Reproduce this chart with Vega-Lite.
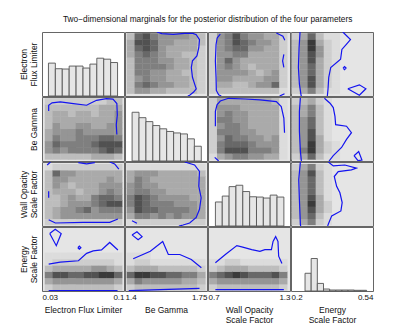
{
"$schema": "https://vega.github.io/schema/vega-lite/v6.json",
"background": "white",
"padding": {"left": 18, "top": 15, "right": 0, "bottom": 0},
"title": {"text": "Two−dimensional marginals for the posterior distribution of the four parameters", "anchor": "start", "frame": "group", "dx": 21, "offset": 8, "fontSize": 8.3, "fontWeight": "normal", "color": "#111"},
"config": {
  "font": "Liberation Sans",
  "view": {"stroke": "#666", "strokeWidth": 1},
  "axis": {"ticks": false, "domain": false, "grid": false, "labelFontSize": 8, "titleFontSize": 8.5, "titleFontWeight": "normal", "labelColor": "#111", "titleColor": "#111", "labelPadding": 2.5, "titlePadding": 4, "titleLineHeight": 10, "labelOverlap": false}
},
"columns": 4,
"spacing": 1,
"bounds": "flush",
"datasets": {
"cen": [
{"i":0,"E":0.0358,"B":1.4248,"W":0.7385,"S":0.2197},
{"i":1,"E":0.0424,"B":1.4583,"W":0.7955,"S":0.253},
{"i":2,"E":0.049,"B":1.4918,"W":0.8525,"S":0.2863},
{"i":3,"E":0.0556,"B":1.5253,"W":0.9095,"S":0.3196},
{"i":4,"E":0.0622,"B":1.5588,"W":0.9665,"S":0.3529},
{"i":5,"E":0.0688,"B":1.5923,"W":1.0235,"S":0.3862},
{"i":6,"E":0.0754,"B":1.6258,"W":1.0805,"S":0.4195},
{"i":7,"E":0.082,"B":1.6593,"W":1.1375,"S":0.4528},
{"i":8,"E":0.0886,"B":1.6928,"W":1.1945,"S":0.4861},
{"i":9,"E":0.0952,"B":1.7263,"W":1.2515,"S":0.5194}
],
"H": [
{"p":"E","x":0.0355,"x2":0.0414,"n":334},{"p":"E","x":0.0414,"x2":0.0473,"n":277},{"p":"E","x":0.0473,"x2":0.0532,"n":274},{"p":"E","x":0.0532,"x2":0.0591,"n":304},{"p":"E","x":0.0591,"x2":0.065,"n":304},{"p":"E","x":0.065,"x2":0.0709,"n":284},{"p":"E","x":0.0709,"x2":0.0768,"n":324},{"p":"E","x":0.0768,"x2":0.0827,"n":384},{"p":"E","x":0.0827,"x2":0.0886,"n":374},{"p":"E","x":0.0886,"x2":0.0945,"n":340},
{"p":"B","x":1.4303,"x2":1.4598,"n":495},{"p":"B","x":1.4598,"x2":1.4894,"n":440},{"p":"B","x":1.4894,"x2":1.5189,"n":400},{"p":"B","x":1.5189,"x2":1.5484,"n":360},{"p":"B","x":1.5484,"x2":1.578,"n":327},{"p":"B","x":1.578,"x2":1.6075,"n":300},{"p":"B","x":1.6075,"x2":1.637,"n":285},{"p":"B","x":1.637,"x2":1.6665,"n":275},{"p":"B","x":1.6665,"x2":1.6961,"n":225},{"p":"B","x":1.6961,"x2":1.7256,"n":150},
{"p":"W","x":0.7542,"x2":0.8043,"n":244},{"p":"W","x":0.8043,"x2":0.8544,"n":304},{"p":"W","x":0.8544,"x2":0.9045,"n":400},{"p":"W","x":0.9045,"x2":0.9546,"n":414},{"p":"W","x":0.9546,"x2":1.0047,"n":350},{"p":"W","x":1.0047,"x2":1.0548,"n":297},{"p":"W","x":1.0548,"x2":1.1049,"n":294},{"p":"W","x":1.1049,"x2":1.155,"n":284},{"p":"W","x":1.155,"x2":1.2051,"n":314},{"p":"W","x":1.2051,"x2":1.2552,"n":294},
{"p":"S","x":0.2582,"x2":0.2837,"n":180},{"p":"S","x":0.2837,"x2":0.3092,"n":330},{"p":"S","x":0.3092,"x2":0.3348,"n":77},{"p":"S","x":0.3348,"x2":0.3603,"n":20},{"p":"S","x":0.3603,"x2":0.3858,"n":10},{"p":"S","x":0.3858,"x2":0.4113,"n":10},{"p":"S","x":0.4113,"x2":0.4368,"n":10},{"p":"S","x":0.4368,"x2":0.4624,"n":10},{"p":"S","x":0.4624,"x2":0.4879,"n":7},{"p":"S","x":0.4879,"x2":0.5134,"n":7}
],
"EB": [
{"i":0,"j":0,"v":3},{"i":0,"j":1,"v":5},{"i":0,"j":2,"v":5},{"i":0,"j":3,"v":4},{"i":0,"j":4,"v":4},{"i":0,"j":5,"v":3},{"i":0,"j":6,"v":3},{"i":0,"j":7,"v":3},{"i":0,"j":8,"v":3},{"i":0,"j":9,"v":2},
{"i":1,"j":0,"v":3},{"i":1,"j":1,"v":6},{"i":1,"j":2,"v":7},{"i":1,"j":3,"v":6},{"i":1,"j":4,"v":5},{"i":1,"j":5,"v":5},{"i":1,"j":6,"v":4},{"i":1,"j":7,"v":4},{"i":1,"j":8,"v":3},{"i":1,"j":9,"v":2},
{"i":2,"j":0,"v":3},{"i":2,"j":1,"v":5},{"i":2,"j":2,"v":6},{"i":2,"j":3,"v":5},{"i":2,"j":4,"v":5},{"i":2,"j":5,"v":4},{"i":2,"j":6,"v":4},{"i":2,"j":7,"v":4},{"i":2,"j":8,"v":3},{"i":2,"j":9,"v":2},
{"i":3,"j":0,"v":3},{"i":3,"j":1,"v":6},{"i":3,"j":2,"v":6},{"i":3,"j":3,"v":5},{"i":3,"j":4,"v":5},{"i":3,"j":5,"v":4},{"i":3,"j":6,"v":4},{"i":3,"j":7,"v":3},{"i":3,"j":8,"v":3},{"i":3,"j":9,"v":2},
{"i":4,"j":0,"v":3},{"i":4,"j":1,"v":6},{"i":4,"j":2,"v":6},{"i":4,"j":3,"v":6},{"i":4,"j":4,"v":6},{"i":4,"j":5,"v":5},{"i":4,"j":6,"v":4},{"i":4,"j":7,"v":4},{"i":4,"j":8,"v":3},{"i":4,"j":9,"v":2},
{"i":5,"j":0,"v":3},{"i":5,"j":1,"v":6},{"i":5,"j":2,"v":6},{"i":5,"j":3,"v":6},{"i":5,"j":4,"v":5},{"i":5,"j":5,"v":5},{"i":5,"j":6,"v":4},{"i":5,"j":7,"v":4},{"i":5,"j":8,"v":3},{"i":5,"j":9,"v":2},
{"i":6,"j":0,"v":4},{"i":6,"j":1,"v":6},{"i":6,"j":2,"v":7},{"i":6,"j":3,"v":6},{"i":6,"j":4,"v":5},{"i":6,"j":5,"v":4},{"i":6,"j":6,"v":4},{"i":6,"j":7,"v":3},{"i":6,"j":8,"v":3},{"i":6,"j":9,"v":2},
{"i":7,"j":0,"v":4},{"i":7,"j":1,"v":7},{"i":7,"j":2,"v":8},{"i":7,"j":3,"v":7},{"i":7,"j":4,"v":5},{"i":7,"j":5,"v":4},{"i":7,"j":6,"v":4},{"i":7,"j":7,"v":4},{"i":7,"j":8,"v":4},{"i":7,"j":9,"v":2},
{"i":8,"j":0,"v":4},{"i":8,"j":1,"v":8},{"i":8,"j":2,"v":8},{"i":8,"j":3,"v":7},{"i":8,"j":4,"v":5},{"i":8,"j":5,"v":5},{"i":8,"j":6,"v":4},{"i":8,"j":7,"v":4},{"i":8,"j":8,"v":4},{"i":8,"j":9,"v":3},
{"i":9,"j":0,"v":3},{"i":9,"j":1,"v":7},{"i":9,"j":2,"v":8},{"i":9,"j":3,"v":6},{"i":9,"j":4,"v":5},{"i":9,"j":5,"v":5},{"i":9,"j":6,"v":5},{"i":9,"j":7,"v":5},{"i":9,"j":8,"v":4},{"i":9,"j":9,"v":3}
],
"EW": [
{"i":0,"j":0,"v":2},{"i":0,"j":1,"v":3},{"i":0,"j":2,"v":3},{"i":0,"j":3,"v":3},{"i":0,"j":4,"v":3},{"i":0,"j":5,"v":3},{"i":0,"j":6,"v":3},{"i":0,"j":7,"v":3},{"i":0,"j":8,"v":3},{"i":0,"j":9,"v":1},
{"i":1,"j":0,"v":2},{"i":1,"j":1,"v":4},{"i":1,"j":2,"v":4},{"i":1,"j":3,"v":3},{"i":1,"j":4,"v":3},{"i":1,"j":5,"v":4},{"i":1,"j":6,"v":5},{"i":1,"j":7,"v":5},{"i":1,"j":8,"v":7},{"i":1,"j":9,"v":2},
{"i":2,"j":0,"v":2},{"i":2,"j":1,"v":5},{"i":2,"j":2,"v":5},{"i":2,"j":3,"v":4},{"i":2,"j":4,"v":4},{"i":2,"j":5,"v":4},{"i":2,"j":6,"v":4},{"i":2,"j":7,"v":5},{"i":2,"j":8,"v":5},{"i":2,"j":9,"v":2},
{"i":3,"j":0,"v":2},{"i":3,"j":1,"v":5},{"i":3,"j":2,"v":5},{"i":3,"j":3,"v":5},{"i":3,"j":4,"v":5},{"i":3,"j":5,"v":4},{"i":3,"j":6,"v":3},{"i":3,"j":7,"v":4},{"i":3,"j":8,"v":5},{"i":3,"j":9,"v":2},
{"i":4,"j":0,"v":2},{"i":4,"j":1,"v":5},{"i":4,"j":2,"v":6},{"i":4,"j":3,"v":5},{"i":4,"j":4,"v":4},{"i":4,"j":5,"v":3},{"i":4,"j":6,"v":4},{"i":4,"j":7,"v":4},{"i":4,"j":8,"v":4},{"i":4,"j":9,"v":2},
{"i":5,"j":0,"v":2},{"i":5,"j":1,"v":5},{"i":5,"j":2,"v":7},{"i":5,"j":3,"v":5},{"i":5,"j":4,"v":4},{"i":5,"j":5,"v":4},{"i":5,"j":6,"v":4},{"i":5,"j":7,"v":4},{"i":5,"j":8,"v":4},{"i":5,"j":9,"v":2},
{"i":6,"j":0,"v":2},{"i":6,"j":1,"v":5},{"i":6,"j":2,"v":5},{"i":6,"j":3,"v":6},{"i":6,"j":4,"v":6},{"i":6,"j":5,"v":4},{"i":6,"j":6,"v":4},{"i":6,"j":7,"v":4},{"i":6,"j":8,"v":4},{"i":6,"j":9,"v":2},
{"i":7,"j":0,"v":2},{"i":7,"j":1,"v":5},{"i":7,"j":2,"v":6},{"i":7,"j":3,"v":7},{"i":7,"j":4,"v":7},{"i":7,"j":5,"v":5},{"i":7,"j":6,"v":5},{"i":7,"j":7,"v":4},{"i":7,"j":8,"v":4},{"i":7,"j":9,"v":2},
{"i":8,"j":0,"v":2},{"i":8,"j":1,"v":5},{"i":8,"j":2,"v":6},{"i":8,"j":3,"v":8},{"i":8,"j":4,"v":7},{"i":8,"j":5,"v":6},{"i":8,"j":6,"v":5},{"i":8,"j":7,"v":5},{"i":8,"j":8,"v":4},{"i":8,"j":9,"v":2},
{"i":9,"j":0,"v":2},{"i":9,"j":1,"v":5},{"i":9,"j":2,"v":6},{"i":9,"j":3,"v":8},{"i":9,"j":4,"v":6},{"i":9,"j":5,"v":5},{"i":9,"j":6,"v":5},{"i":9,"j":7,"v":4},{"i":9,"j":8,"v":4},{"i":9,"j":9,"v":2}
],
"ES": [
{"i":0,"j":0,"v":2},{"i":0,"j":1,"v":4},{"i":0,"j":2,"v":6},{"i":0,"j":3,"v":3},{"i":0,"j":4,"v":1},{"i":0,"j":5,"v":1},
{"i":1,"j":0,"v":3},{"i":1,"j":1,"v":5},{"i":1,"j":2,"v":8},{"i":1,"j":3,"v":4},{"i":1,"j":4,"v":2},{"i":1,"j":5,"v":1},
{"i":2,"j":0,"v":3},{"i":2,"j":1,"v":5},{"i":2,"j":2,"v":8},{"i":2,"j":3,"v":4},{"i":2,"j":4,"v":2},{"i":2,"j":5,"v":1},
{"i":3,"j":0,"v":3},{"i":3,"j":1,"v":5},{"i":3,"j":2,"v":7},{"i":3,"j":3,"v":4},{"i":3,"j":4,"v":2},{"i":3,"j":5,"v":1},
{"i":4,"j":0,"v":3},{"i":4,"j":1,"v":5},{"i":4,"j":2,"v":7},{"i":4,"j":3,"v":4},{"i":4,"j":4,"v":2},{"i":4,"j":5,"v":1},
{"i":5,"j":0,"v":3},{"i":5,"j":1,"v":5},{"i":5,"j":2,"v":8},{"i":5,"j":3,"v":4},{"i":5,"j":4,"v":2},{"i":5,"j":5,"v":1},
{"i":6,"j":0,"v":3},{"i":6,"j":1,"v":5},{"i":6,"j":2,"v":8},{"i":6,"j":3,"v":5},{"i":6,"j":4,"v":2},{"i":6,"j":5,"v":1},
{"i":7,"j":0,"v":3},{"i":7,"j":1,"v":5},{"i":7,"j":2,"v":9},{"i":7,"j":3,"v":5},{"i":7,"j":4,"v":2},{"i":7,"j":5,"v":1},
{"i":8,"j":0,"v":3},{"i":8,"j":1,"v":5},{"i":8,"j":2,"v":9},{"i":8,"j":3,"v":4},{"i":8,"j":4,"v":2},{"i":8,"j":5,"v":1},
{"i":9,"j":0,"v":2},{"i":9,"j":1,"v":4},{"i":9,"j":2,"v":7},{"i":9,"j":3,"v":3},{"i":9,"j":4,"v":1},{"i":9,"j":5,"v":1}
],
"BW": [
{"i":0,"j":0,"v":1},{"i":0,"j":1,"v":4},{"i":0,"j":2,"v":5},{"i":0,"j":3,"v":6},{"i":0,"j":4,"v":6},{"i":0,"j":5,"v":5},{"i":0,"j":6,"v":5},{"i":0,"j":7,"v":4},{"i":0,"j":8,"v":4},{"i":0,"j":9,"v":1},
{"i":1,"j":0,"v":2},{"i":1,"j":1,"v":6},{"i":1,"j":2,"v":8},{"i":1,"j":3,"v":8},{"i":1,"j":4,"v":8},{"i":1,"j":5,"v":6},{"i":1,"j":6,"v":6},{"i":1,"j":7,"v":6},{"i":1,"j":8,"v":5},{"i":1,"j":9,"v":1},
{"i":2,"j":0,"v":2},{"i":2,"j":1,"v":6},{"i":2,"j":2,"v":7},{"i":2,"j":3,"v":7},{"i":2,"j":4,"v":7},{"i":2,"j":5,"v":6},{"i":2,"j":6,"v":5},{"i":2,"j":7,"v":5},{"i":2,"j":8,"v":5},{"i":2,"j":9,"v":1},
{"i":3,"j":0,"v":2},{"i":3,"j":1,"v":5},{"i":3,"j":2,"v":7},{"i":3,"j":3,"v":6},{"i":3,"j":4,"v":6},{"i":3,"j":5,"v":5},{"i":3,"j":6,"v":5},{"i":3,"j":7,"v":4},{"i":3,"j":8,"v":5},{"i":3,"j":9,"v":1},
{"i":4,"j":0,"v":2},{"i":4,"j":1,"v":6},{"i":4,"j":2,"v":6},{"i":4,"j":3,"v":6},{"i":4,"j":4,"v":5},{"i":4,"j":5,"v":5},{"i":4,"j":6,"v":4},{"i":4,"j":7,"v":4},{"i":4,"j":8,"v":4},{"i":4,"j":9,"v":1},
{"i":5,"j":0,"v":2},{"i":5,"j":1,"v":5},{"i":5,"j":2,"v":6},{"i":5,"j":3,"v":6},{"i":5,"j":4,"v":5},{"i":5,"j":5,"v":4},{"i":5,"j":6,"v":4},{"i":5,"j":7,"v":4},{"i":5,"j":8,"v":4},{"i":5,"j":9,"v":1},
{"i":6,"j":0,"v":2},{"i":6,"j":1,"v":6},{"i":6,"j":2,"v":6},{"i":6,"j":3,"v":5},{"i":6,"j":4,"v":5},{"i":6,"j":5,"v":4},{"i":6,"j":6,"v":4},{"i":6,"j":7,"v":4},{"i":6,"j":8,"v":4},{"i":6,"j":9,"v":1},
{"i":7,"j":0,"v":2},{"i":7,"j":1,"v":5},{"i":7,"j":2,"v":6},{"i":7,"j":3,"v":5},{"i":7,"j":4,"v":5},{"i":7,"j":5,"v":4},{"i":7,"j":6,"v":4},{"i":7,"j":7,"v":4},{"i":7,"j":8,"v":4},{"i":7,"j":9,"v":1},
{"i":8,"j":0,"v":2},{"i":8,"j":1,"v":5},{"i":8,"j":2,"v":5},{"i":8,"j":3,"v":5},{"i":8,"j":4,"v":4},{"i":8,"j":5,"v":4},{"i":8,"j":6,"v":4},{"i":8,"j":7,"v":4},{"i":8,"j":8,"v":4},{"i":8,"j":9,"v":1},
{"i":9,"j":0,"v":2},{"i":9,"j":1,"v":4},{"i":9,"j":2,"v":4},{"i":9,"j":3,"v":4},{"i":9,"j":4,"v":4},{"i":9,"j":5,"v":4},{"i":9,"j":6,"v":4},{"i":9,"j":7,"v":4},{"i":9,"j":8,"v":3},{"i":9,"j":9,"v":1}
],
"BS": [
{"i":0,"j":0,"v":2},{"i":0,"j":1,"v":4},{"i":0,"j":2,"v":7},{"i":0,"j":3,"v":3},{"i":0,"j":4,"v":1},{"i":0,"j":5,"v":1},
{"i":1,"j":0,"v":3},{"i":1,"j":1,"v":6},{"i":1,"j":2,"v":9},{"i":1,"j":3,"v":4},{"i":1,"j":4,"v":2},{"i":1,"j":5,"v":1},
{"i":2,"j":0,"v":3},{"i":2,"j":1,"v":5},{"i":2,"j":2,"v":9},{"i":2,"j":3,"v":4},{"i":2,"j":4,"v":2},{"i":2,"j":5,"v":1},
{"i":3,"j":0,"v":3},{"i":3,"j":1,"v":5},{"i":3,"j":2,"v":8},{"i":3,"j":3,"v":4},{"i":3,"j":4,"v":1},
{"i":4,"j":0,"v":3},{"i":4,"j":1,"v":5},{"i":4,"j":2,"v":8},{"i":4,"j":3,"v":3},{"i":4,"j":4,"v":1},
{"i":5,"j":0,"v":3},{"i":5,"j":1,"v":5},{"i":5,"j":2,"v":7},{"i":5,"j":3,"v":3},{"i":5,"j":4,"v":1},
{"i":6,"j":0,"v":3},{"i":6,"j":1,"v":5},{"i":6,"j":2,"v":7},{"i":6,"j":3,"v":3},{"i":6,"j":4,"v":1},
{"i":7,"j":0,"v":3},{"i":7,"j":1,"v":4},{"i":7,"j":2,"v":6},{"i":7,"j":3,"v":3},{"i":7,"j":4,"v":1},
{"i":8,"j":0,"v":3},{"i":8,"j":1,"v":4},{"i":8,"j":2,"v":6},{"i":8,"j":3,"v":3},{"i":8,"j":4,"v":1},
{"i":9,"j":0,"v":2},{"i":9,"j":1,"v":3},{"i":9,"j":2,"v":4},{"i":9,"j":3,"v":2},{"i":9,"j":4,"v":1}
],
"WS": [
{"i":0,"j":0,"v":2},{"i":0,"j":1,"v":4},{"i":0,"j":2,"v":6},{"i":0,"j":3,"v":2},{"i":0,"j":4,"v":1},
{"i":1,"j":0,"v":3},{"i":1,"j":1,"v":5},{"i":1,"j":2,"v":7},{"i":1,"j":3,"v":3},{"i":1,"j":4,"v":1},
{"i":2,"j":0,"v":3},{"i":2,"j":1,"v":5},{"i":2,"j":2,"v":8},{"i":2,"j":3,"v":4},{"i":2,"j":4,"v":2},
{"i":3,"j":0,"v":3},{"i":3,"j":1,"v":5},{"i":3,"j":2,"v":9},{"i":3,"j":3,"v":4},{"i":3,"j":4,"v":2},
{"i":4,"j":0,"v":3},{"i":4,"j":1,"v":5},{"i":4,"j":2,"v":8},{"i":4,"j":3,"v":4},{"i":4,"j":4,"v":1},
{"i":5,"j":0,"v":3},{"i":5,"j":1,"v":5},{"i":5,"j":2,"v":7},{"i":5,"j":3,"v":3},{"i":5,"j":4,"v":1},
{"i":6,"j":0,"v":3},{"i":6,"j":1,"v":5},{"i":6,"j":2,"v":7},{"i":6,"j":3,"v":3},{"i":6,"j":4,"v":1},
{"i":7,"j":0,"v":3},{"i":7,"j":1,"v":5},{"i":7,"j":2,"v":7},{"i":7,"j":3,"v":3},{"i":7,"j":4,"v":1},
{"i":8,"j":0,"v":3},{"i":8,"j":1,"v":5},{"i":8,"j":2,"v":8},{"i":8,"j":3,"v":3},{"i":8,"j":4,"v":1},
{"i":9,"j":0,"v":2},{"i":9,"j":1,"v":4},{"i":9,"j":2,"v":6},{"i":9,"j":3,"v":2},{"i":9,"j":4,"v":1}
],
"ct": [
{"p":"01","g":0,"x":1.536,"y":0.1},{"p":"01","g":0,"x":1.557,"y":0.0982},{"p":"01","g":0,"x":1.606,"y":0.0975},{"p":"01","g":0,"x":1.655,"y":0.0985},{"p":"01","g":0,"x":1.69,"y":0.0985},{"p":"01","g":0,"x":1.704,"y":0.0971},{"p":"01","g":0,"x":1.718,"y":0.0917},{"p":"01","g":0,"x":1.715,"y":0.0828},{"p":"01","g":0,"x":1.707,"y":0.0738},{"p":"01","g":0,"x":1.688,"y":0.0684},{"p":"01","g":0,"x":1.683,"y":0.0612},{"p":"01","g":0,"x":1.688,"y":0.0505},{"p":"01","g":0,"x":1.697,"y":0.0432},{"p":"01","g":0,"x":1.704,"y":0.0379},{"p":"01","g":0,"x":1.693,"y":0.0343},{"p":"01","g":0,"x":1.676,"y":0.0308},{"p":"01","g":0,"x":1.668,"y":0.03},
{"p":"02","g":0,"x":0.79,"y":0.0978},{"p":"02","g":0,"x":0.767,"y":0.0935},{"p":"02","g":0,"x":0.759,"y":0.0863},{"p":"02","g":0,"x":0.754,"y":0.0684},{"p":"02","g":0,"x":0.759,"y":0.0505},{"p":"02","g":0,"x":0.761,"y":0.0361},{"p":"02","g":0,"x":0.778,"y":0.0314},{"p":"02","g":0,"x":0.797,"y":0.03},
{"p":"02","g":1,"x":1.2,"y":0.0989},{"p":"02","g":1,"x":1.248,"y":0.0954},{"p":"02","g":1,"x":1.262,"y":0.091},
{"p":"02","g":2,"x":1.255,"y":0.0756},{"p":"02","g":2,"x":1.246,"y":0.0684},{"p":"02","g":2,"x":1.255,"y":0.0612},
{"p":"02","g":3,"x":1.224,"y":0.03},{"p":"02","g":3,"x":1.26,"y":0.0325},
{"p":"03","g":0,"x":0.2375,"y":0.1},{"p":"03","g":0,"x":0.2335,"y":0.0828},{"p":"03","g":0,"x":0.2307,"y":0.0612},{"p":"03","g":0,"x":0.2348,"y":0.0432},{"p":"03","g":0,"x":0.2417,"y":0.0308},{"p":"03","g":0,"x":0.243,"y":0.03},
{"p":"03","g":1,"x":0.415,"y":0.1},{"p":"03","g":1,"x":0.4466,"y":0.0917},{"p":"03","g":1,"x":0.4286,"y":0.0863},{"p":"03","g":1,"x":0.411,"y":0.0809},{"p":"03","g":1,"x":0.4056,"y":0.0702},{"p":"03","g":1,"x":0.3647,"y":0.0612},{"p":"03","g":1,"x":0.3565,"y":0.0505},{"p":"03","g":1,"x":0.3536,"y":0.0379},{"p":"03","g":1,"x":0.3507,"y":0.03},
{"p":"03","g":2,"x":0.4157,"y":0.0605},{"p":"03","g":2,"x":0.422,"y":0.0622},{"p":"03","g":2,"x":0.4283,"y":0.0605},{"p":"03","g":2,"x":0.422,"y":0.0588},{"p":"03","g":2,"x":0.4157,"y":0.0605},
{"p":"03","g":3,"x":0.4355,"y":0.0379},{"p":"03","g":3,"x":0.4835,"y":0.0422},{"p":"03","g":3,"x":0.5105,"y":0.0379},{"p":"03","g":3,"x":0.4835,"y":0.0308},{"p":"03","g":3,"x":0.4355,"y":0.0379},
{"p":"10","g":0,"x":0.0357,"y":1.673},{"p":"10","g":0,"x":0.0357,"y":1.705},{"p":"10","g":0,"x":0.0386,"y":1.718},{"p":"10","g":0,"x":0.0456,"y":1.723},{"p":"10","g":0,"x":0.0568,"y":1.714},{"p":"10","g":0,"x":0.0681,"y":1.705},{"p":"10","g":0,"x":0.0709,"y":1.714},{"p":"10","g":0,"x":0.0766,"y":1.732},{"p":"10","g":0,"x":0.085,"y":1.741},{"p":"10","g":0,"x":0.0906,"y":1.738},{"p":"10","g":0,"x":0.0939,"y":1.714},{"p":"10","g":0,"x":0.0943,"y":1.651},{"p":"10","g":0,"x":0.0934,"y":1.598},{"p":"10","g":0,"x":0.0939,"y":1.545},
{"p":"12","g":0,"x":0.754,"y":1.59},{"p":"12","g":0,"x":0.754,"y":1.671},{"p":"12","g":0,"x":0.766,"y":1.707},{"p":"12","g":0,"x":0.79,"y":1.728},{"p":"12","g":0,"x":0.85,"y":1.743},{"p":"12","g":0,"x":0.971,"y":1.739},{"p":"12","g":0,"x":1.08,"y":1.734},{"p":"12","g":0,"x":1.2,"y":1.725},{"p":"12","g":0,"x":1.236,"y":1.698},{"p":"12","g":0,"x":1.255,"y":1.635},{"p":"12","g":0,"x":1.26,"y":1.555},
{"p":"12","g":1,"x":0.749,"y":1.42},{"p":"12","g":1,"x":0.778,"y":1.4},
{"p":"13","g":0,"x":0.2389,"y":1.745},{"p":"13","g":0,"x":0.2348,"y":1.671},{"p":"13","g":0,"x":0.2348,"y":1.563},{"p":"13","g":0,"x":0.2389,"y":1.455},{"p":"13","g":0,"x":0.243,"y":1.4},
{"p":"13","g":1,"x":0.3385,"y":1.743},{"p":"13","g":1,"x":0.3618,"y":1.716},{"p":"13","g":1,"x":0.3753,"y":1.692},{"p":"13","g":1,"x":0.3823,"y":1.644},{"p":"13","g":1,"x":0.3851,"y":1.599},{"p":"13","g":1,"x":0.4302,"y":1.59},{"p":"13","g":1,"x":0.4507,"y":1.555},{"p":"13","g":1,"x":0.4302,"y":1.518},{"p":"13","g":1,"x":0.4097,"y":1.474},{"p":"13","g":1,"x":0.3753,"y":1.429},{"p":"13","g":1,"x":0.3577,"y":1.4},
{"p":"13","g":2,"x":0.4613,"y":1.429},{"p":"13","g":2,"x":0.4806,"y":1.452},{"p":"13","g":2,"x":0.4941,"y":1.405},{"p":"13","g":2,"x":0.4777,"y":1.402},{"p":"13","g":2,"x":0.4613,"y":1.429},
{"p":"20","g":0,"x":0.0344,"y":1.272},{"p":"20","g":0,"x":0.0372,"y":1.3},
{"p":"20","g":1,"x":0.061,"y":1.294},{"p":"20","g":1,"x":0.0681,"y":1.282},{"p":"20","g":1,"x":0.0751,"y":1.294},
{"p":"20","g":2,"x":0.0878,"y":1.3},{"p":"20","g":2,"x":0.092,"y":1.282},{"p":"20","g":2,"x":0.0956,"y":1.233},
{"p":"20","g":3,"x":0.0357,"y":1.026},{"p":"20","g":3,"x":0.0357,"y":0.965},
{"p":"20","g":4,"x":0.0357,"y":0.758},{"p":"20","g":4,"x":0.0414,"y":0.728},{"p":"20","g":4,"x":0.0652,"y":0.734},{"p":"20","g":4,"x":0.0878,"y":0.734},{"p":"20","g":4,"x":0.0948,"y":0.765},
{"p":"21","g":0,"x":1.655,"y":1.3},{"p":"21","g":0,"x":1.697,"y":1.272},{"p":"21","g":0,"x":1.718,"y":1.211},{"p":"21","g":0,"x":1.715,"y":1.072},{"p":"21","g":0,"x":1.725,"y":0.965},{"p":"21","g":0,"x":1.718,"y":0.857},{"p":"21","g":0,"x":1.704,"y":0.78},{"p":"21","g":0,"x":1.676,"y":0.728},{"p":"21","g":0,"x":1.648,"y":0.709},{"p":"21","g":0,"x":1.63,"y":0.7},
{"p":"21","g":1,"x":1.43,"y":0.749},{"p":"21","g":1,"x":1.451,"y":0.725},
{"p":"23","g":0,"x":0.2389,"y":1.3},{"p":"23","g":0,"x":0.232,"y":1.134},{"p":"23","g":0,"x":0.2348,"y":0.949},{"p":"23","g":0,"x":0.2389,"y":0.718},{"p":"23","g":0,"x":0.24,"y":0.7},
{"p":"23","g":1,"x":0.355,"y":1.3},{"p":"23","g":1,"x":0.3753,"y":1.263},{"p":"23","g":1,"x":0.4233,"y":1.272},{"p":"23","g":1,"x":0.4712,"y":1.242},{"p":"23","g":1,"x":0.4507,"y":1.226},{"p":"23","g":1,"x":0.3958,"y":1.21},{"p":"23","g":1,"x":0.3794,"y":1.164},{"p":"23","g":1,"x":0.3892,"y":1.072},{"p":"23","g":1,"x":0.4028,"y":1.011},{"p":"23","g":1,"x":0.4122,"y":0.919},{"p":"23","g":1,"x":0.4069,"y":0.841},{"p":"23","g":1,"x":0.3688,"y":0.795},{"p":"23","g":1,"x":0.3549,"y":0.718},{"p":"23","g":1,"x":0.352,"y":0.7},
{"p":"30","g":0,"x":0.0366,"y":0.505},{"p":"30","g":0,"x":0.0413,"y":0.528},{"p":"30","g":0,"x":0.0464,"y":0.505},{"p":"30","g":0,"x":0.0422,"y":0.4406},{"p":"30","g":0,"x":0.0366,"y":0.505},
{"p":"30","g":1,"x":0.0606,"y":0.43},{"p":"30","g":1,"x":0.0619,"y":0.438},{"p":"30","g":1,"x":0.0632,"y":0.43},{"p":"30","g":1,"x":0.0619,"y":0.422},{"p":"30","g":1,"x":0.0606,"y":0.43},
{"p":"30","g":2,"x":0.0357,"y":0.343},{"p":"30","g":2,"x":0.0456,"y":0.353},{"p":"30","g":2,"x":0.0611,"y":0.3606},{"p":"30","g":2,"x":0.0681,"y":0.4},{"p":"30","g":2,"x":0.0737,"y":0.413},{"p":"30","g":2,"x":0.0808,"y":0.418},{"p":"30","g":2,"x":0.0878,"y":0.458},{"p":"30","g":2,"x":0.0948,"y":0.418},
{"p":"30","g":3,"x":0.0357,"y":0.202},{"p":"30","g":3,"x":0.0945,"y":0.202},
{"p":"31","g":0,"x":1.43,"y":0.498},{"p":"31","g":0,"x":1.451,"y":0.515},{"p":"31","g":0,"x":1.473,"y":0.489},{"p":"31","g":0,"x":1.456,"y":0.472},{"p":"31","g":0,"x":1.43,"y":0.498},
{"p":"31","g":1,"x":1.435,"y":0.371},{"p":"31","g":1,"x":1.508,"y":0.411},{"p":"31","g":1,"x":1.561,"y":0.463},{"p":"31","g":1,"x":1.585,"y":0.394},{"p":"31","g":1,"x":1.634,"y":0.394},{"p":"31","g":1,"x":1.683,"y":0.367},{"p":"31","g":1,"x":1.726,"y":0.324},
{"p":"31","g":2,"x":1.416,"y":0.2015},{"p":"31","g":2,"x":1.718,"y":0.214},
{"p":"32","g":0,"x":0.754,"y":0.35},{"p":"32","g":0,"x":0.827,"y":0.394},{"p":"32","g":0,"x":0.911,"y":0.441},{"p":"32","g":0,"x":0.947,"y":0.434},{"p":"32","g":0,"x":1.02,"y":0.42},{"p":"32","g":0,"x":1.08,"y":0.411},{"p":"32","g":0,"x":1.116,"y":0.42},{"p":"32","g":0,"x":1.164,"y":0.42},{"p":"32","g":0,"x":1.176,"y":0.463},{"p":"32","g":0,"x":1.195,"y":0.489},{"p":"32","g":0,"x":1.212,"y":0.463},{"p":"32","g":0,"x":1.217,"y":0.385},{"p":"32","g":0,"x":1.241,"y":0.346},
{"p":"32","g":1,"x":0.754,"y":0.207},{"p":"32","g":1,"x":1.255,"y":0.207}
]
},
"concat": [
{"width":82,"height":64,"data":{"name":"H"},"transform":[{"filter":"datum.p=='E'"}],"mark":{"type":"rect","fill":"#e6e6e6","stroke":"#555","strokeWidth":0.9},
 "encoding":{"x":{"field":"x","type":"quantitative","scale":{"domain":[0.03,0.1],"nice":false,"zero":false},"axis":null},"x2":{"field":"x2"},
 "y":{"field":"n","type":"quantitative","scale":{"domain":[0,650],"nice":false},"axis":{"labels":false,"title":["Electron","Flux Limiter"]}},"y2":{"datum":0}}},
{"width":82,"height":64,"view":{"fill":"#e5e5e5"},"layer":[
 {"data":{"name":"EB"},"transform":[{"lookup":"i","from":{"data":{"name":"cen"},"key":"i","fields":["E"]},"as":["y"]},{"lookup":"j","from":{"data":{"name":"cen"},"key":"i","fields":["B"]},"as":["x"]}],
  "mark":{"type":"rect","width":8.2,"height":6.4},"encoding":{"color":{"field":"v","type":"quantitative","scale":{"type":"pow","exponent":1.4,"domain":[0,9],"range":["#e5e5e5","#3a3a3a"]},"legend":null}}},
 {"data":{"name":"ct"},"transform":[{"filter":"datum.p=='01'"}],"mark":{"type":"line","color":"#1414f0","strokeWidth":1.2,"clip":true},"encoding":{"detail":{"field":"g"},"order":{"value":null}}}],
 "encoding":{"x":{"field":"x","type":"quantitative","scale":{"domain":[1.4,1.75],"nice":false,"zero":false},"axis":null},"y":{"field":"y","type":"quantitative","scale":{"domain":[0.03,0.1],"nice":false,"zero":false},"axis":null}}},
{"width":82,"height":64,"view":{"fill":"#e5e5e5"},"layer":[
 {"data":{"name":"EW"},"transform":[{"lookup":"i","from":{"data":{"name":"cen"},"key":"i","fields":["E"]},"as":["y"]},{"lookup":"j","from":{"data":{"name":"cen"},"key":"i","fields":["W"]},"as":["x"]}],
  "mark":{"type":"rect","width":8.2,"height":6.4},"encoding":{"color":{"field":"v","type":"quantitative","scale":{"type":"pow","exponent":1.4,"domain":[0,9],"range":["#e5e5e5","#3a3a3a"]},"legend":null}}},
 {"data":{"name":"ct"},"transform":[{"filter":"datum.p=='02'"}],"mark":{"type":"line","color":"#1414f0","strokeWidth":1.2,"clip":true},"encoding":{"detail":{"field":"g"},"order":{"value":null}}}],
 "encoding":{"x":{"field":"x","type":"quantitative","scale":{"domain":[0.7,1.3],"nice":false,"zero":false},"axis":null},"y":{"field":"y","type":"quantitative","scale":{"domain":[0.03,0.1],"nice":false,"zero":false},"axis":null}}},
{"width":82,"height":64,"view":{"fill":"#e5e5e5"},"layer":[
 {"data":{"name":"ES"},"transform":[{"lookup":"i","from":{"data":{"name":"cen"},"key":"i","fields":["E"]},"as":["y"]},{"lookup":"j","from":{"data":{"name":"cen"},"key":"i","fields":["S"]},"as":["x"]}],
  "mark":{"type":"rect","width":8.4,"height":6.4},"encoding":{"color":{"field":"v","type":"quantitative","scale":{"type":"pow","exponent":1.4,"domain":[0,9],"range":["#e5e5e5","#3a3a3a"]},"legend":null}}},
 {"data":{"name":"ct"},"transform":[{"filter":"datum.p=='03'"}],"mark":{"type":"line","color":"#1414f0","strokeWidth":1.2,"clip":true},"encoding":{"detail":{"field":"g"},"order":{"value":null}}}],
 "encoding":{"x":{"field":"x","type":"quantitative","scale":{"domain":[0.2,0.54],"nice":false,"zero":false},"axis":null},"y":{"field":"y","type":"quantitative","scale":{"domain":[0.03,0.1],"nice":false,"zero":false},"axis":null}}},

{"width":82,"height":64,"view":{"fill":"#e5e5e5"},"layer":[
 {"data":{"name":"EB"},"transform":[{"lookup":"i","from":{"data":{"name":"cen"},"key":"i","fields":["E"]},"as":["x"]},{"lookup":"j","from":{"data":{"name":"cen"},"key":"i","fields":["B"]},"as":["y"]}],
  "mark":{"type":"rect","width":8.1,"height":6.5},"encoding":{"color":{"field":"v","type":"quantitative","scale":{"type":"pow","exponent":1.4,"domain":[0,9],"range":["#e5e5e5","#3a3a3a"]},"legend":null}}},
 {"data":{"name":"ct"},"transform":[{"filter":"datum.p=='10'"}],"mark":{"type":"line","color":"#1414f0","strokeWidth":1.2,"clip":true},"encoding":{"detail":{"field":"g"},"order":{"value":null}}}],
 "encoding":{"x":{"field":"x","type":"quantitative","scale":{"domain":[0.03,0.1],"nice":false,"zero":false},"axis":null},"y":{"field":"y","type":"quantitative","scale":{"domain":[1.4,1.75],"nice":false,"zero":false},"axis":{"labels":false,"title":"Be Gamma"}}}},
{"width":82,"height":64,"data":{"name":"H"},"transform":[{"filter":"datum.p=='B'"}],"mark":{"type":"rect","fill":"#e6e6e6","stroke":"#555","strokeWidth":0.9},
 "encoding":{"x":{"field":"x","type":"quantitative","scale":{"domain":[1.4,1.75],"nice":false,"zero":false},"axis":null},"x2":{"field":"x2"},
 "y":{"field":"n","type":"quantitative","scale":{"domain":[0,650],"nice":false},"axis":null},"y2":{"datum":0}}},
{"width":82,"height":64,"view":{"fill":"#e5e5e5"},"layer":[
 {"data":{"name":"BW"},"transform":[{"lookup":"i","from":{"data":{"name":"cen"},"key":"i","fields":["B"]},"as":["y"]},{"lookup":"j","from":{"data":{"name":"cen"},"key":"i","fields":["W"]},"as":["x"]}],
  "mark":{"type":"rect","width":8.2,"height":6.5},"encoding":{"color":{"field":"v","type":"quantitative","scale":{"type":"pow","exponent":1.4,"domain":[0,9],"range":["#e5e5e5","#3a3a3a"]},"legend":null}}},
 {"data":{"name":"ct"},"transform":[{"filter":"datum.p=='12'"}],"mark":{"type":"line","color":"#1414f0","strokeWidth":1.2,"clip":true},"encoding":{"detail":{"field":"g"},"order":{"value":null}}}],
 "encoding":{"x":{"field":"x","type":"quantitative","scale":{"domain":[0.7,1.3],"nice":false,"zero":false},"axis":null},"y":{"field":"y","type":"quantitative","scale":{"domain":[1.4,1.75],"nice":false,"zero":false},"axis":null}}},
{"width":82,"height":64,"view":{"fill":"#e5e5e5"},"layer":[
 {"data":{"name":"BS"},"transform":[{"lookup":"i","from":{"data":{"name":"cen"},"key":"i","fields":["B"]},"as":["y"]},{"lookup":"j","from":{"data":{"name":"cen"},"key":"i","fields":["S"]},"as":["x"]}],
  "mark":{"type":"rect","width":8.4,"height":6.5},"encoding":{"color":{"field":"v","type":"quantitative","scale":{"type":"pow","exponent":1.4,"domain":[0,9],"range":["#e5e5e5","#3a3a3a"]},"legend":null}}},
 {"data":{"name":"ct"},"transform":[{"filter":"datum.p=='13'"}],"mark":{"type":"line","color":"#1414f0","strokeWidth":1.2,"clip":true},"encoding":{"detail":{"field":"g"},"order":{"value":null}}}],
 "encoding":{"x":{"field":"x","type":"quantitative","scale":{"domain":[0.2,0.54],"nice":false,"zero":false},"axis":null},"y":{"field":"y","type":"quantitative","scale":{"domain":[1.4,1.75],"nice":false,"zero":false},"axis":null}}},

{"width":82,"height":64,"view":{"fill":"#e5e5e5"},"layer":[
 {"data":{"name":"EW"},"transform":[{"lookup":"i","from":{"data":{"name":"cen"},"key":"i","fields":["E"]},"as":["x"]},{"lookup":"j","from":{"data":{"name":"cen"},"key":"i","fields":["W"]},"as":["y"]}],
  "mark":{"type":"rect","width":8.1,"height":6.5},"encoding":{"color":{"field":"v","type":"quantitative","scale":{"type":"pow","exponent":1.4,"domain":[0,9],"range":["#e5e5e5","#3a3a3a"]},"legend":null}}},
 {"data":{"name":"ct"},"transform":[{"filter":"datum.p=='20'"}],"mark":{"type":"line","color":"#1414f0","strokeWidth":1.2,"clip":true},"encoding":{"detail":{"field":"g"},"order":{"value":null}}}],
 "encoding":{"x":{"field":"x","type":"quantitative","scale":{"domain":[0.03,0.1],"nice":false,"zero":false},"axis":null},"y":{"field":"y","type":"quantitative","scale":{"domain":[0.7,1.3],"nice":false,"zero":false},"axis":{"labels":false,"title":["Wall Opacity","Scale Factor"]}}}},
{"width":82,"height":64,"view":{"fill":"#e5e5e5"},"layer":[
 {"data":{"name":"BW"},"transform":[{"lookup":"i","from":{"data":{"name":"cen"},"key":"i","fields":["B"]},"as":["x"]},{"lookup":"j","from":{"data":{"name":"cen"},"key":"i","fields":["W"]},"as":["y"]}],
  "mark":{"type":"rect","width":8.3,"height":6.5},"encoding":{"color":{"field":"v","type":"quantitative","scale":{"type":"pow","exponent":1.4,"domain":[0,9],"range":["#e5e5e5","#3a3a3a"]},"legend":null}}},
 {"data":{"name":"ct"},"transform":[{"filter":"datum.p=='21'"}],"mark":{"type":"line","color":"#1414f0","strokeWidth":1.2,"clip":true},"encoding":{"detail":{"field":"g"},"order":{"value":null}}}],
 "encoding":{"x":{"field":"x","type":"quantitative","scale":{"domain":[1.4,1.75],"nice":false,"zero":false},"axis":null},"y":{"field":"y","type":"quantitative","scale":{"domain":[0.7,1.3],"nice":false,"zero":false},"axis":null}}},
{"width":82,"height":64,"data":{"name":"H"},"transform":[{"filter":"datum.p=='W'"}],"mark":{"type":"rect","fill":"#e6e6e6","stroke":"#555","strokeWidth":0.9},
 "encoding":{"x":{"field":"x","type":"quantitative","scale":{"domain":[0.7,1.3],"nice":false,"zero":false},"axis":null},"x2":{"field":"x2"},
 "y":{"field":"n","type":"quantitative","scale":{"domain":[0,650],"nice":false},"axis":null},"y2":{"datum":0}}},
{"width":82,"height":64,"view":{"fill":"#e5e5e5"},"layer":[
 {"data":{"name":"WS"},"transform":[{"lookup":"i","from":{"data":{"name":"cen"},"key":"i","fields":["W"]},"as":["y"]},{"lookup":"j","from":{"data":{"name":"cen"},"key":"i","fields":["S"]},"as":["x"]}],
  "mark":{"type":"rect","width":8.4,"height":6.5},"encoding":{"color":{"field":"v","type":"quantitative","scale":{"type":"pow","exponent":1.4,"domain":[0,9],"range":["#e5e5e5","#3a3a3a"]},"legend":null}}},
 {"data":{"name":"ct"},"transform":[{"filter":"datum.p=='23'"}],"mark":{"type":"line","color":"#1414f0","strokeWidth":1.2,"clip":true},"encoding":{"detail":{"field":"g"},"order":{"value":null}}}],
 "encoding":{"x":{"field":"x","type":"quantitative","scale":{"domain":[0.2,0.54],"nice":false,"zero":false},"axis":null},"y":{"field":"y","type":"quantitative","scale":{"domain":[0.7,1.3],"nice":false,"zero":false},"axis":null}}},

{"width":82,"height":64,"view":{"fill":"#e5e5e5"},"layer":[
 {"data":{"name":"ES"},"transform":[{"lookup":"i","from":{"data":{"name":"cen"},"key":"i","fields":["E"]},"as":["x"]},{"lookup":"j","from":{"data":{"name":"cen"},"key":"i","fields":["S"]},"as":["y"]}],
  "mark":{"type":"rect","width":8.1,"height":6.7},"encoding":{"color":{"field":"v","type":"quantitative","scale":{"type":"pow","exponent":1.4,"domain":[0,9],"range":["#e5e5e5","#3a3a3a"]},"legend":null}}},
 {"data":{"name":"ct"},"transform":[{"filter":"datum.p=='30'"}],"mark":{"type":"line","color":"#1414f0","strokeWidth":1.2,"clip":true},"encoding":{"detail":{"field":"g"},"order":{"value":null}}}],
 "encoding":{"x":{"field":"x","type":"quantitative","scale":{"domain":[0.03,0.1],"nice":false,"zero":false},"axis":{"values":[0.03,0.1],"format":".2~f","labelFlush":true,"title":"Electron Flux Limiter"}},"y":{"field":"y","type":"quantitative","scale":{"domain":[0.2,0.54],"nice":false,"zero":false},"axis":{"labels":false,"title":["Energy","Scale Factor"]}}}},
{"width":82,"height":64,"view":{"fill":"#e5e5e5"},"layer":[
 {"data":{"name":"BS"},"transform":[{"lookup":"i","from":{"data":{"name":"cen"},"key":"i","fields":["B"]},"as":["x"]},{"lookup":"j","from":{"data":{"name":"cen"},"key":"i","fields":["S"]},"as":["y"]}],
  "mark":{"type":"rect","width":8.3,"height":6.7},"encoding":{"color":{"field":"v","type":"quantitative","scale":{"type":"pow","exponent":1.4,"domain":[0,9],"range":["#e5e5e5","#3a3a3a"]},"legend":null}}},
 {"data":{"name":"ct"},"transform":[{"filter":"datum.p=='31'"}],"mark":{"type":"line","color":"#1414f0","strokeWidth":1.2,"clip":true},"encoding":{"detail":{"field":"g"},"order":{"value":null}}}],
 "encoding":{"x":{"field":"x","type":"quantitative","scale":{"domain":[1.4,1.75],"nice":false,"zero":false},"axis":{"values":[1.4,1.75],"format":".2~f","labelFlush":true,"title":"Be Gamma"}},"y":{"field":"y","type":"quantitative","scale":{"domain":[0.2,0.54],"nice":false,"zero":false},"axis":null}}},
{"width":82,"height":64,"view":{"fill":"#e5e5e5"},"layer":[
 {"data":{"name":"WS"},"transform":[{"lookup":"i","from":{"data":{"name":"cen"},"key":"i","fields":["W"]},"as":["x"]},{"lookup":"j","from":{"data":{"name":"cen"},"key":"i","fields":["S"]},"as":["y"]}],
  "mark":{"type":"rect","width":8.2,"height":6.7},"encoding":{"color":{"field":"v","type":"quantitative","scale":{"type":"pow","exponent":1.4,"domain":[0,9],"range":["#e5e5e5","#3a3a3a"]},"legend":null}}},
 {"data":{"name":"ct"},"transform":[{"filter":"datum.p=='32'"}],"mark":{"type":"line","color":"#1414f0","strokeWidth":1.2,"clip":true},"encoding":{"detail":{"field":"g"},"order":{"value":null}}}],
 "encoding":{"x":{"field":"x","type":"quantitative","scale":{"domain":[0.7,1.3],"nice":false,"zero":false},"axis":{"values":[0.7,1.3],"format":".2~f","labelFlush":true,"title":["Wall Opacity","Scale Factor"]}},"y":{"field":"y","type":"quantitative","scale":{"domain":[0.2,0.54],"nice":false,"zero":false},"axis":null}}},
{"width":82,"height":64,"data":{"name":"H"},"transform":[{"filter":"datum.p=='S'"}],"mark":{"type":"rect","fill":"#e6e6e6","stroke":"#555","strokeWidth":0.9},
 "encoding":{"x":{"field":"x","type":"quantitative","scale":{"domain":[0.2,0.54],"nice":false,"zero":false},"axis":{"values":[0.2,0.54],"format":".2~f","labelFlush":true,"title":["Energy","Scale Factor"]}},"x2":{"field":"x2"},
 "y":{"field":"n","type":"quantitative","scale":{"domain":[0,650],"nice":false},"axis":null},"y2":{"datum":0}}}
]
}
